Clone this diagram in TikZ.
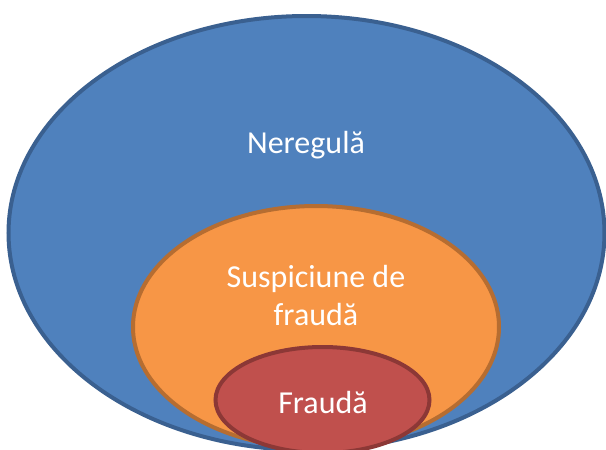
\documentclass[tikz,border=0pt]{standalone}
\usepackage{fontspec}
\setmainfont{Carlito}
\usetikzlibrary{shapes.geometric}
\definecolor{bfill}{HTML}{4F81BD}
\definecolor{bline}{HTML}{3A6090}
\definecolor{ofill}{HTML}{F79646}
\definecolor{oline}{HTML}{B66D31}
\definecolor{rfill}{HTML}{C0504D}
\definecolor{rline}{HTML}{8C3836}
\tikzset{
  oval/.style={ellipse, inner sep=0pt, line width=4pt},
  lbl/.style={text=white, font=\fontsize{32}{38}\selectfont, align=center, inner sep=0pt}
}
\begin{document}
\begin{tikzpicture}[x=1pt,y=1pt]
\useasboundingbox (0,0) rectangle (606,-450);
\clip (0,0) rectangle (606,-450);
\node[oval, fill=bfill, draw=bline, minimum width=596pt, minimum height=434pt] (nereg) at (306.5,-233) {};
\node[oval, fill=ofill, draw=oline, minimum width=366pt, minimum height=242pt] (susp) at (316,-327) {};
\node[oval, fill=rfill, draw=rline, minimum width=214pt, minimum height=106pt] (frauda) at (322.5,-400) {};
\node[lbl] (t1) at (306,-145) {Neregulă};
\node[lbl] (t2) at (316,-296) {Suspiciune de\\fraudă};
\node[lbl] (t3) at (323,-403) {Fraudă};
\end{tikzpicture}
\end{document}
